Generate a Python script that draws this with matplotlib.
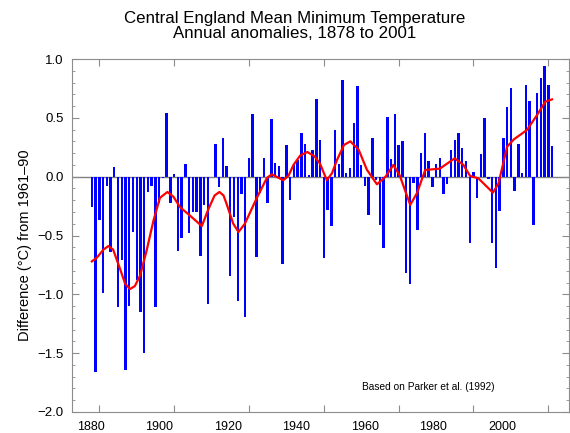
import numpy as np
import matplotlib
matplotlib.use("Agg")
import matplotlib.pyplot as plt
from matplotlib.ticker import MultipleLocator

# annual anomalies (deg C, relative to 1961-90)
years = np.arange(1878, 2002)
anomaly = [
    -0.26, -1.66,                                                      # 1878-79
    -0.37, -0.99, -0.08, -0.64, 0.08, -1.11, -0.71, -1.64, -1.10, -0.47,  # 1880s
    -0.88, -1.15, -1.50, -0.13, -0.08, -1.11, -0.22, -0.01, 0.54, -0.22,  # 1890s
    0.02, -0.63, -0.52, 0.11, -0.48, -0.30, -0.30, -0.67, -0.24, -1.08,   # 1900s
    0.00, 0.28, -0.09, 0.33, 0.09, -0.84, -0.34, -1.06, -0.15, -1.19,     # 1910s
    0.16, 0.53, -0.68, -0.14, 0.16, -0.22, 0.49, 0.12, 0.09, -0.74,       # 1920s
    0.27, -0.20, 0.11, 0.14, 0.37, 0.28, 0.01, 0.23, 0.66, 0.31,          # 1930s
    -0.69, -0.28, -0.42, 0.40, 0.11, 0.82, 0.03, 0.07, 0.46, 0.77,        # 1940s
    0.10, -0.08, -0.33, 0.33, -0.03, -0.41, -0.61, 0.51, 0.15, 0.53,      # 1950s
    0.27, 0.30, -0.82, -0.91, -0.05, -0.45, 0.20, 0.37, 0.13, -0.09,      # 1960s
    0.11, 0.16, -0.15, -0.06, 0.23, 0.31, 0.37, 0.24, 0.13, -0.56,        # 1970s
    0.04, -0.18, 0.19, 0.50, -0.02, -0.56, -0.78, -0.29, 0.33, 0.59,      # 1980s
    0.75, -0.12, 0.28, 0.03, 0.78, 0.64, -0.41, 0.71, 0.84, 0.94,         # 1990s
    0.78, 0.26,                                                        # 2000-01
]

# smoothed curve, points
smooth_years = [1878, 1879.3, 1881.1, 1882.4, 1883.7, 1885.5, 1886.9, 1888.2,
                1889.5, 1890.9, 1892.7, 1894.5, 1896.2, 1898.2, 1899.8, 1901.6,
                1904.2, 1907.4, 1909.1, 1910.8, 1912.1, 1913.2, 1914.0, 1915.8,
                1917.2, 1918.9, 1920.5, 1922.1, 1924.8, 1926.1, 1927.9, 1929.2,
                1930.6, 1931.9, 1933.7, 1935.6, 1937.6, 1939.0, 1940.8, 1942.2,
                1943.5, 1945.4, 1947.1, 1949.3, 1951.5, 1954.2, 1956.5, 1958.6,
                1960.3, 1963.1, 1964.9, 1967.1, 1971.0, 1975.0, 1977.3, 1979.1,
                1981.3, 1983.1, 1985.2, 1986.7, 1989.0, 1990.8, 1994.3, 1997.0,
                1999.2, 2001.0]
smooth_vals = [-0.72, -0.69, -0.62, -0.59, -0.62, -0.78, -0.91, -0.955,
               -0.93, -0.84, -0.62, -0.37, -0.18, -0.13, -0.17, -0.26,
               -0.33, -0.42, -0.28, -0.16, -0.13, -0.16, -0.23, -0.40,
               -0.47, -0.40, -0.29, -0.18, -0.01, 0.02, -0.01, -0.03,
               0.01, 0.10, 0.18, 0.21, 0.17, 0.11, -0.03, 0.03,
               0.14, 0.27, 0.30, 0.23, 0.06, -0.065, 0.0, 0.10,
               0.01, -0.24, -0.14, 0.057, 0.068, 0.156, 0.10, 0.006,
               -0.014, -0.07, -0.136, -0.057, 0.255, 0.317, 0.397, 0.524,
               0.637, 0.657]

tick_years = [1880, 1900, 1920, 1940, 1960, 1980, 2000]

plt.rcParams["font.family"] = ["Liberation Sans", "DejaVu Sans"]

W, H = 570, 433
fig = plt.figure(figsize=(W / 100, H / 100), dpi=100)
ax = fig.add_axes([72 / W, 1 - 412 / H, (568.5 - 72) / W, (412 - 59) / H])

ax.bar(years, anomaly, width=0.65, color="#0000ff", zorder=2)
ax.axhline(0, color="#808080", lw=1, zorder=1)
ax.plot(smooth_years, smooth_vals, color="#ff0000", lw=1.6, zorder=3)

ax.set_xlim(1872.7, 2005.4)
ax.set_ylim(-2.0, 1.0)

# tick marks sit on the bar years, labels are drawn a bit compressed as in the original
ax.set_xticks(tick_years, labels=[""] * len(tick_years))
label_pos = [1877.7 + 18.32 * i for i in range(len(tick_years))]
ax.set_xticks(label_pos, labels=[str(y) for y in tick_years], minor=True)
ax.tick_params(axis="x", which="minor", length=0, pad=6.5, labelsize=9)
ax.tick_params(axis="x", which="major", direction="in", length=5, top=True,
               color="#8c8c8c")

ax.yaxis.set_major_locator(MultipleLocator(0.5))
ax.yaxis.set_minor_locator(MultipleLocator(0.1))
ax.yaxis.set_major_formatter(lambda v, p: f"{v:.1f}".replace("-", "\u2212"))
ax.tick_params(axis="y", which="both", direction="in", right=True,
               color="#8c8c8c", labelsize=9.5, pad=6)
ax.tick_params(axis="y", which="major", length=5)
ax.tick_params(axis="y", which="minor", length=2.5)

for s in ax.spines.values():
    s.set_color("#8c8c8c")
    s.set_linewidth(0.8)

fig.text(294.5 / W, 1 - 18 / H, "Central England Mean Minimum Temperature",
         ha="center", va="center", fontsize=12.2)
fig.text(294.5 / W, 1 - 33 / H, "Annual anomalies, 1878 to 2001",
         ha="center", va="center", fontsize=12.2)
fig.text(25 / W, 1 - 245 / H, "Difference (\u00b0C) from 1961\u201390",
         rotation=90, ha="center", va="center", fontsize=10.5)
fig.text(495 / W, 1 - 387 / H, "Based on Parker et al. (1992)",
         ha="right", va="center", fontsize=7.3)

fig.savefig("out.png", dpi=100)
